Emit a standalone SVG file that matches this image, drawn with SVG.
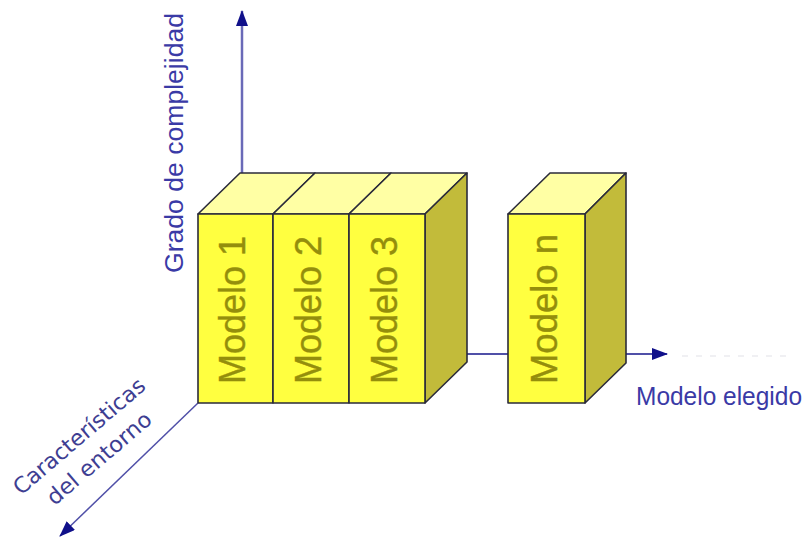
<svg xmlns="http://www.w3.org/2000/svg" width="811" height="538" viewBox="0 0 811 538">
<defs>
<style>
.front{fill:#ffff40;stroke:#2b2b3a;stroke-width:1.6;stroke-linejoin:round}
.top{fill:#ffffa4;stroke:#2b2b3a;stroke-width:1.6;stroke-linejoin:round}
.side{fill:#c2bb3a;stroke:#2b2b3a;stroke-width:1.6;stroke-linejoin:round}
.lbl{font-family:"Liberation Sans",Arial,sans-serif;font-size:36px;fill:#948e0c;stroke:#948e0c;stroke-width:0.4}
.axis{stroke:#5050a8;stroke-width:2;fill:none}
.axt{font-family:"Liberation Sans",Arial,sans-serif;fill:#3a3aa6}
.axt2{font-family:"DejaVu Sans",Verdana,sans-serif;fill:#3e3e92}
</style>
<marker id="arr" viewBox="0 0 16 12" refX="15" refY="6" markerWidth="16" markerHeight="12" markerUnits="userSpaceOnUse" orient="auto">
<path d="M0,0 L16,6 L0,12 Z" fill="#10108a"/>
</marker>
</defs>
<rect width="811" height="538" fill="#ffffff"/>

<g id="connectors">
<line class="axis" x1="242" y1="174" x2="242" y2="11" marker-end="url(#arr)" style="stroke:#6a6ab8;stroke-width:2.5"/>
<line class="axis" x1="198" y1="403" x2="60" y2="536" marker-end="url(#arr)" style="stroke-width:1.5"/>
<line class="axis" x1="460" y1="354" x2="667" y2="354" marker-end="url(#arr)"/>
<line x1="682" y1="356" x2="790" y2="356" stroke="#ececf0" stroke-width="1.5" stroke-dasharray="6 8"/>
</g>

<g id="modelo1">
<polygon class="top" points="198,214 273,214 315,173 240,173"/>
<rect class="front" x="198" y="214" width="75" height="189"/>
<text class="lbl" transform="translate(245,384) rotate(-90)" textLength="148" lengthAdjust="spacingAndGlyphs">Modelo 1</text>
</g>
<g id="modelo2">
<polygon class="top" points="273,214 349,214 391,173 315,173"/>
<rect class="front" x="273" y="214" width="76" height="189"/>
<text class="lbl" transform="translate(321,384) rotate(-90)" textLength="148" lengthAdjust="spacingAndGlyphs">Modelo 2</text>
</g>
<g id="modelo3">
<polygon class="top" points="349,214 425,214 467,173 391,173"/>
<polygon class="side" points="425,214 467,173 467,362 425,403"/>
<rect class="front" x="349" y="214" width="76" height="189"/>
<text class="lbl" transform="translate(397,384) rotate(-90)" textLength="148" lengthAdjust="spacingAndGlyphs">Modelo 3</text>
</g>
<g id="modelon">
<polygon class="top" points="508,214 585,214 626,173 550,173"/>
<polygon class="side" points="585,214 626,173 626,363 585,403"/>
<rect class="front" x="508" y="214" width="77" height="189"/>
<text class="lbl" transform="translate(557,384) rotate(-90)" textLength="150" lengthAdjust="spacingAndGlyphs">Modelo n</text>
</g>

<g id="label-grado">
<text class="axt" font-size="25" transform="translate(183,273) rotate(-90)" textLength="260" lengthAdjust="spacingAndGlyphs">Grado de complejidad</text>
</g>
<g id="label-elegido">
<text class="axt" font-size="26" x="636" y="405" textLength="166" lengthAdjust="spacingAndGlyphs">Modelo elegido</text>
</g>
<g id="label-entorno">
<text class="axt2" font-size="22" text-anchor="middle" transform="translate(84,442) rotate(-40.5)" textLength="166" lengthAdjust="spacingAndGlyphs">Características</text>
<text class="axt2" font-size="22" text-anchor="middle" transform="translate(104,464) rotate(-40.5)" textLength="130" lengthAdjust="spacingAndGlyphs">del entorno</text>
</g>
</svg>
